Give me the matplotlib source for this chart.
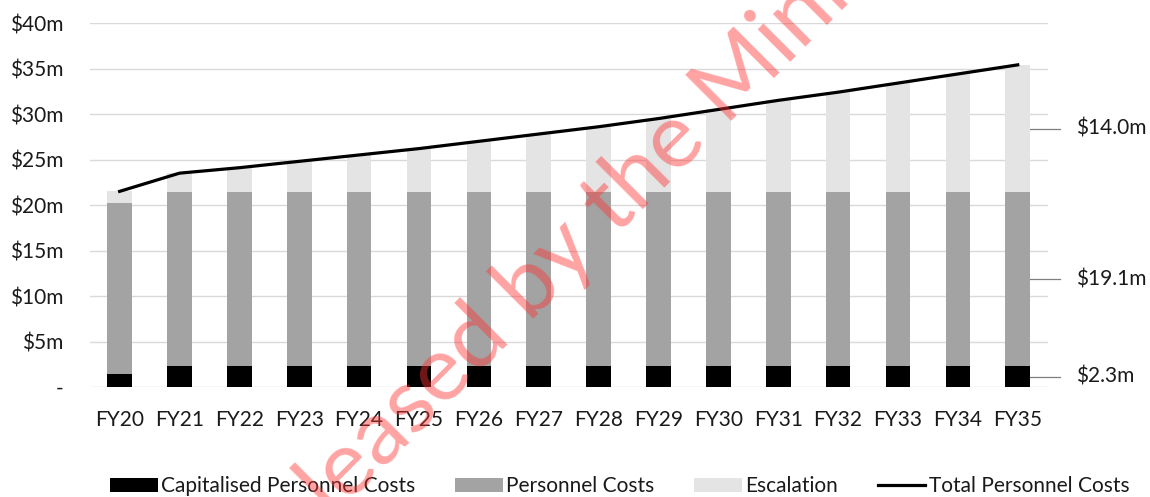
import numpy as np
import matplotlib
matplotlib.use("Agg")
import matplotlib.pyplot as plt
from matplotlib.transforms import blended_transform_factory

plt.rcParams['font.family'] = ['Lato', 'DejaVu Sans']

# data ($m)
years = ['FY20', 'FY21', 'FY22', 'FY23', 'FY24', 'FY25', 'FY26', 'FY27',
         'FY28', 'FY29', 'FY30', 'FY31', 'FY32', 'FY33', 'FY34', 'FY35']
capitalised = [1.4, 2.3, 2.3, 2.3, 2.3, 2.3, 2.3, 2.3,
               2.3, 2.3, 2.3, 2.3, 2.3, 2.3, 2.3, 2.3]
personnel = [18.8, 19.1, 19.1, 19.1, 19.1, 19.1, 19.1, 19.1,
             19.1, 19.1, 19.1, 19.1, 19.1, 19.1, 19.1, 19.1]
escalation = [1.3, 2.1, 2.7, 3.4, 4.1, 4.8, 5.6, 6.4,
              7.2, 8.1, 9.1, 10.1, 11.0, 12.0, 13.0, 14.0]
yticks = [0, 5, 10, 15, 20, 25, 30, 35, 40]
ytick_labels = ['-', '$5m', '$10m', '$15m', '$20m', '$25m', '$30m', '$35m', '$40m']

cap = np.array(capitalised)
per = np.array(personnel)
esc = np.array(escalation)
total = cap + per + esc
x = np.arange(len(years))

fig = plt.figure(figsize=(11.5, 4.97), dpi=100)
ax = fig.add_axes([0.078, 0.2213, 0.833, 0.7324])

w = 0.41
b1 = ax.bar(x, cap, w, color='#000000', label='Capitalised Personnel Costs', zorder=3)
b2 = ax.bar(x, per, w, bottom=cap, color='#a3a3a3', label='Personnel Costs', zorder=3)
b3 = ax.bar(x, esc, w, bottom=cap + per, color='#e4e4e4', label='Escalation', zorder=3)
l1, = ax.plot(x, total, color='black', lw=2.3, label='Total Personnel Costs', zorder=4)

ax.set_xlim(-0.5, len(years) - 0.5)
ax.set_ylim(0, 40)
ax.set_yticks(yticks)
ax.set_yticklabels(ytick_labels)
ax.set_xticks(x)
ax.set_xticklabels(years)
ax.tick_params(axis='y', length=0, pad=19, labelsize=15, labelcolor='#1a1a1a')
ax.tick_params(axis='x', length=0, pad=16.5, labelsize=15, labelcolor='#1a1a1a')
ax.grid(axis='y', color='#d9d9d9', lw=1, zorder=0)
for s in ax.spines.values():
    s.set_visible(False)

# labels for the last bar's segments
tr = blended_transform_factory(ax.transAxes, ax.transData)
last = len(years) - 1
mids = [cap[last] / 2, cap[last] + per[last] / 2, cap[last] + per[last] + esc[last] / 2]
vals = [cap[last], per[last], esc[last]]
for m, v in zip(mids, vals):
    ax.plot([0.981, 1.0125], [m, m], color='#7f7f7f', lw=0.9, transform=tr, clip_on=False)
    ax.text(1.03, m, '$%.1fm' % v, transform=tr, va='center', ha='left',
            fontsize=15, color='#1a1a1a')

fig.legend([b1, b2, b3, l1],
           ['Capitalised Personnel Costs', 'Personnel Costs', 'Escalation', 'Total Personnel Costs'],
           loc='lower center', bbox_to_anchor=(0.539, -0.036), ncol=4, frameon=False,
           fontsize=15, handlelength=2.3, handleheight=0.7, handletextpad=0.15,
           columnspacing=1.9, labelcolor='#1a1a1a')

# watermark
fig.text(0.515, 0.548, 'Released by the Minister', rotation=45, rotation_mode='anchor',
         ha='center', va='center', fontsize=66, color='#ff3333', alpha=0.45, zorder=10)

fig.savefig('out.png', dpi=100)
